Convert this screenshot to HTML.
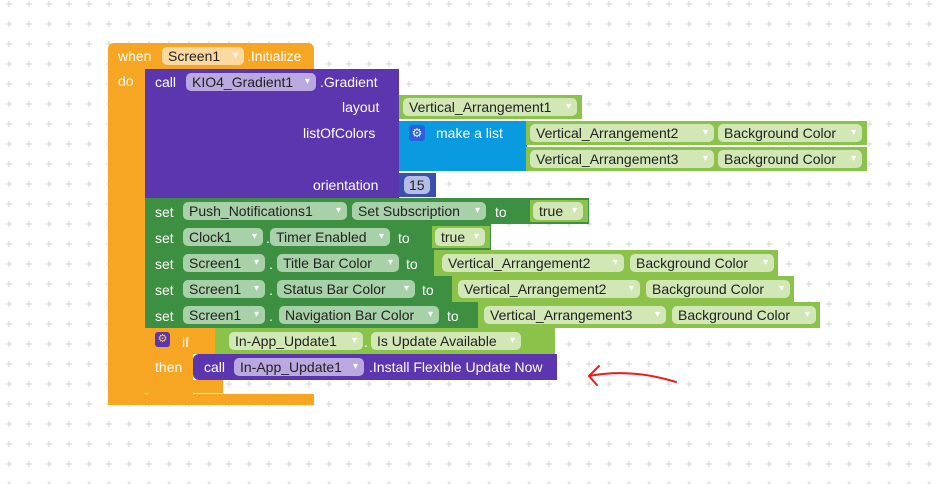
<!DOCTYPE html><html><head><style>
body{margin:0;width:944px;height:484px;overflow:hidden;background:#fff;font-family:"Liberation Sans",sans-serif;font-size:14px;position:relative}
.b{position:absolute;box-sizing:border-box}
.t{position:absolute;color:#fff;white-space:nowrap;line-height:16px}
.f{position:absolute;height:18px;border-radius:5px;line-height:18px;padding-left:6px;box-sizing:border-box;white-space:nowrap;color:#222}
.f:after{content:"▾";position:absolute;right:6px;font-size:10px;color:#fff}
.n{position:absolute;height:18px;border-radius:5px;line-height:18px;padding-left:5px;box-sizing:border-box;color:#222}
.lg{background:#d2e7b6}.dg{background:#a9d1a9}.or{background:#fdd9a2}.pu{background:#b9a9e0}
.o{background:#f7a623}.p{background:#5c36ae}.g{background:#3d8f41}.l{background:#8bc34a}.bl{background:#0a9ae0}
</style></head><body>
<svg class="b" style="left:0;top:0" width="944" height="484"><defs><pattern id="pt" x="6" y="1" width="20" height="20" patternUnits="userSpaceOnUse"><path d="M3 0v6M0 3h6" stroke="#d4d4d4" stroke-width="1"/></pattern></defs><rect width="944" height="484" fill="url(#pt)"/></svg>
<div class="b o" style="left:108px;top:43px;width:206px;height:26px;border-radius:6px 6px 0 0"></div>
<div class="b o" style="left:108px;top:69px;width:37px;height:336px;border-radius:0 0 0 6px"></div>
<div class="b o" style="left:108px;top:394px;width:206px;height:11px"></div>
<div class="t" style="left:118px;top:48px">when</div>
<div class="f or" style="left:162px;top:47px;width:82px">Screen1</div>
<div class="t" style="left:247px;top:48px">.Initialize</div>
<div class="t" style="left:118px;top:73px">do</div>
<div class="b p" style="left:145px;top:69px;width:254px;height:129px"></div>
<div class="t" style="left:155px;top:74px">call</div>
<div class="f pu" style="left:186px;top:73px;width:130px">KIO4_Gradient1</div>
<div class="t" style="left:320px;top:74px">.Gradient</div>
<div class="t" style="left:342px;top:99px">layout</div>
<div class="t" style="left:303px;top:125px">listOfColors</div>
<div class="t" style="left:313px;top:177px">orientation</div>
<div class="b l" style="left:399px;top:95px;width:183px;height:24px"></div>
<div class="f lg" style="left:403px;top:98px;width:174px">Vertical_Arrangement1</div>
<div class="b bl" style="left:399px;top:121px;width:128px;height:50px"></div>
<div class="b" style="left:409px;top:125px;width:16px;height:16px;background:#2a5fe0;border-radius:3px;color:#fff;font-size:12px;text-align:center;line-height:16px">⚙</div>
<div class="t" style="left:436px;top:125px">make a list</div>
<div class="b l" style="left:526px;top:121px;width:341px;height:24px"></div>
<div class="b l" style="left:526px;top:147px;width:341px;height:24px"></div>
<div class="f lg" style="left:530px;top:124px;width:184px">Vertical_Arrangement2</div>
<div class="f lg" style="left:718px;top:124px;width:144px">Background Color</div>
<div class="f lg" style="left:530px;top:150px;width:184px">Vertical_Arrangement3</div>
<div class="f lg" style="left:718px;top:150px;width:144px">Background Color</div>
<div class="b" style="left:399px;top:173px;width:37px;height:24px;background:#3a4fb0"></div>
<div class="n" style="left:404px;top:176px;width:26px;background:#b5bde6">15</div>
<div class="b g" style="left:145px;top:198px;width:444px;height:26px"></div>
<div class="t" style="left:155px;top:204px">set</div>
<div class="f dg" style="left:183px;top:202px;width:164px">Push_Notifications1</div>
<div class="t" style="left:351px;top:204px">.</div>
<div class="f dg" style="left:352px;top:202px;width:134px">Set Subscription</div>
<div class="t" style="left:495px;top:204px">to</div>
<div class="b l" style="left:530px;top:200px;width:58px;height:22px"></div>
<div class="f lg" style="left:533px;top:202px;width:50px">true</div>
<div class="b g" style="left:145px;top:224px;width:346px;height:26px"></div>
<div class="t" style="left:155px;top:230px">set</div>
<div class="f dg" style="left:183px;top:228px;width:80px">Clock1</div>
<div class="t" style="left:266px;top:230px">.</div>
<div class="f dg" style="left:270px;top:228px;width:120px">Timer Enabled</div>
<div class="t" style="left:398px;top:230px">to</div>
<div class="b l" style="left:432px;top:226px;width:58px;height:22px"></div>
<div class="f lg" style="left:435px;top:228px;width:50px">true</div>
<div class="b g" style="left:145px;top:250px;width:290px;height:26px"></div>
<div class="t" style="left:155px;top:256px">set</div>
<div class="f dg" style="left:183px;top:254px;width:82px">Screen1</div>
<div class="t" style="left:269px;top:256px">.</div>
<div class="f dg" style="left:277px;top:254px;width:122px">Title Bar Color</div>
<div class="t" style="left:406px;top:256px">to</div>
<div class="b l" style="left:434px;top:250px;width:344px;height:26px"></div>
<div class="f lg" style="left:442px;top:254px;width:182px">Vertical_Arrangement2</div>
<div class="f lg" style="left:630px;top:254px;width:144px">Background Color</div>
<div class="b g" style="left:145px;top:276px;width:308px;height:26px"></div>
<div class="t" style="left:155px;top:282px">set</div>
<div class="f dg" style="left:183px;top:280px;width:82px">Screen1</div>
<div class="t" style="left:269px;top:282px">.</div>
<div class="f dg" style="left:277px;top:280px;width:138px">Status Bar Color</div>
<div class="t" style="left:422px;top:282px">to</div>
<div class="b l" style="left:452px;top:276px;width:342px;height:26px"></div>
<div class="f lg" style="left:458px;top:280px;width:182px">Vertical_Arrangement2</div>
<div class="f lg" style="left:646px;top:280px;width:144px">Background Color</div>
<div class="b g" style="left:145px;top:302px;width:334px;height:26px"></div>
<div class="t" style="left:155px;top:308px">set</div>
<div class="f dg" style="left:183px;top:306px;width:82px">Screen1</div>
<div class="t" style="left:269px;top:308px">.</div>
<div class="f dg" style="left:279px;top:306px;width:160px">Navigation Bar Color</div>
<div class="t" style="left:447px;top:308px">to</div>
<div class="b l" style="left:478px;top:302px;width:342px;height:26px"></div>
<div class="f lg" style="left:484px;top:306px;width:182px">Vertical_Arrangement3</div>
<div class="f lg" style="left:672px;top:306px;width:144px">Background Color</div>
<div class="b o" style="left:145px;top:328px;width:78px;height:26px"></div>
<div class="b o" style="left:145px;top:354px;width:48px;height:40px;border-radius:0 0 0 5px"></div>
<div class="b o" style="left:145px;top:380px;width:78px;height:13px"></div>
<div class="b" style="left:155px;top:332px;width:15px;height:15px;background:#5c36ae;border-radius:3px;color:#f7c56a;font-size:11px;text-align:center;line-height:15px">⚙</div>
<div class="t" style="left:182px;top:334px">if</div>
<div class="t" style="left:155px;top:359px">then</div>
<div class="b l" style="left:215px;top:328px;width:340px;height:26px"></div>
<div class="f lg" style="left:229px;top:332px;width:134px">In-App_Update1</div>
<div class="t" style="left:364px;top:334px">.</div>
<div class="f lg" style="left:371px;top:332px;width:150px">Is Update Available</div>
<div class="b p" style="left:193px;top:354px;width:364px;height:26px;border-radius:6px 0 0 6px"></div>
<div class="t" style="left:204px;top:359px">call</div>
<div class="f pu" style="left:234px;top:358px;width:130px">In-App_Update1</div>
<div class="t" style="left:369px;top:359px">.Install Flexible Update Now</div>
<svg class="b" style="left:0;top:0" width="944" height="484"><path d="M676 382 C650 374 620 370 589 376 M589 376 L599 366 M589 376 L597 385" stroke="#f01818" stroke-width="2" fill="none" stroke-linecap="round"/></svg>
</body></html>
